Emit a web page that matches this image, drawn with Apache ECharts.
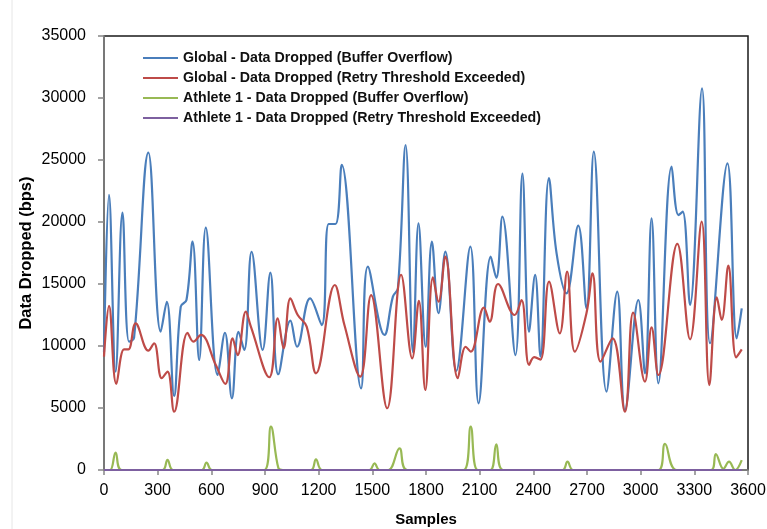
<!DOCTYPE html>
<html>
<head>
<meta charset="utf-8">
<script src="https://cdn.jsdelivr.net/npm/echarts@6/dist/echarts.min.js"></script>
<style>
html,body{margin:0;padding:0;background:#fff;}
#chart{width:767px;height:529px;}
</style>
</head>
<body>
<div id="chart"></div>
<script>
// ---- Data ----
var seriesNames = [
  'Global - Data Dropped (Buffer Overflow)',
  'Global - Data Dropped (Retry Threshold Exceeded)',
  'Athlete 1 - Data Dropped (Buffer Overflow)',
  'Athlete 1 - Data Dropped (Retry Threshold Exceeded)'
];

var globalBufferX = [0,28,65,103,140,168,248,317,351,392,429,461,495,532,569,635,676,715,752,784,825,887,930,974,1042,1079,1152,1217,1256,1294,1329,1437,1475,1568,1615,1643,1686,1727,1758,1798,1833,1870,1908,1969,2048,2094,2162,2193,2227,2300,2339,2376,2410,2440,2487,2530,2585,2651,2697,2738,2809,2869,2912,2987,3024,3061,3099,3173,3211,3235,3276,3343,3388,3485,3537,3565];
var globalBufferY = [9500,22180,7930,20750,10350,10650,25590,11150,13570,5970,13170,13710,18410,8870,19540,7660,11070,5780,11150,9680,17600,9680,15910,7720,12040,9940,13840,11690,19840,19840,24600,6590,16400,10890,13980,14650,26210,9500,19890,9940,18410,12640,17610,8000,18010,5380,17200,15500,20430,9270,23900,11150,15730,9140,23550,17470,14250,19700,13040,25670,6320,14380,4840,13710,7800,20300,6990,24460,20560,20830,13310,30780,10220,24730,10620,13040];

var globalRetryX = [0,28,69,112,136,177,248,280,323,355,392,467,500,541,625,678,719,747,793,821,924,971,1004,1042,1083,1133,1185,1290,1344,1432,1493,1583,1661,1723,1760,1796,1839,1870,1908,1978,2022,2050,2124,2156,2203,2296,2334,2376,2405,2440,2488,2548,2589,2632,2697,2731,2776,2843,2912,2958,3024,3061,3099,3205,3276,3341,3384,3426,3453,3490,3534,3565];
var globalRetryY = [9140,13230,6940,9730,9730,11830,9620,10220,7400,7930,4700,11070,10350,10890,8470,6940,10620,9270,12770,11560,7480,12230,9810,13840,12500,11560,7800,14920,11690,7530,14110,4980,15730,9010,13650,6450,15540,13570,17200,7400,9940,9540,13090,11960,15000,12500,13710,8470,9100,8900,15190,11020,15990,9540,12640,15860,8740,10620,4700,12690,7120,11510,7660,18230,10540,20030,6850,13920,12100,16480,9080,9730];

var athleteBufferX = [0,34,65,99,327,355,386,547,573,603,896,933,975,1000,1157,1185,1219,1484,1512,1540,1590,1652,1695,2010,2050,2089,2160,2193,2231,2563,2591,2623,3099,3136,3201,3394,3420,3462,3494,3528,3565];
var athleteBufferY = [0,0,1400,0,0,810,0,0,590,0,0,3500,150,0,0,860,0,0,540,0,0,1750,0,0,3500,0,0,2070,0,0,670,0,0,2100,0,0,1290,100,670,0,800];

var athleteRetryX = [0,3565];
var athleteRetryY = [0,0];

var xTicks = {min:0, max:3600, interval:300};
var yTicks = {min:0, max:35000, interval:5000};

function pairs(xs, ys){ return xs.map(function(x,i){ return [x, ys[i]]; }); }

var colors = ['#4a7ebb','#be4b48','#98b954','#7d60a0'];
var chart = echarts.init(document.getElementById('chart'), null, {renderer:'canvas'});

function lineSeries(name, data, color){
  return {
    name: name, type: 'line', data: data, smooth: 0.4, symbol: 'none',
    lineStyle: {color: color, width: 2.2}, itemStyle: {color: color},
    animation: false
  };
}
var font = 'Liberation Sans, Arial, sans-serif';

chart.setOption({
  backgroundColor: '#fff',
  animation: false,
  graphic: [{
    type: 'line', shape: {x1: 12, y1: 0, x2: 12, y2: 529},
    style: {stroke: '#e6e6e6', lineWidth: 1}, silent: true
  }],
  grid: {left: 104, right: 19, top: 36, bottom: 59, show: true, containLabel: false,
         outerBoundsMode: 'none',
         borderColor: '#1a1a1a', borderWidth: 1.5, backgroundColor: 'transparent'},
  legend: {
    orient: 'vertical', left: 143, top: 50, padding: 0,
    icon: 'rect', itemWidth: 35, itemHeight: 2, itemGap: 4,
    data: seriesNames,
    textStyle: {fontFamily: font, fontWeight: 'bold', fontSize: 14.2, color: '#111', lineHeight: 16}
  },
  xAxis: {
    type: 'value', min: xTicks.min, max: xTicks.max, interval: xTicks.interval,
    name: 'Samples', nameLocation: 'middle', nameGap: 42, nameMoveOverlap: false,
    nameTextStyle: {fontFamily: font, fontWeight: 'bold', fontSize: 15, color: '#000'},
    axisLine: {show: true, lineStyle: {color: '#868686', width: 1.5}},
    axisTick: {show: true, inside: false, length: 5, lineStyle: {color: '#868686', width: 1.5}},
    axisLabel: {margin: 13, fontFamily: font, fontSize: 16, color: '#000',
                formatter: function(v){ return String(v); }},
    splitLine: {show: false}
  },
  yAxis: {
    type: 'value', min: yTicks.min, max: yTicks.max, interval: yTicks.interval,
    name: 'Data Dropped (bps)', nameLocation: 'middle', nameGap: 69, nameMoveOverlap: false,
    nameTextStyle: {fontFamily: font, fontWeight: 'bold', fontSize: 16.5, color: '#000'},
    axisLine: {show: true, lineStyle: {color: '#868686', width: 1.5}},
    axisTick: {show: true, inside: false, length: 6, lineStyle: {color: '#868686', width: 1.5}},
    axisLabel: {margin: 18, fontFamily: font, fontSize: 16, color: '#000',
                formatter: function(v){ return String(v); }},
    splitLine: {show: false}
  },
  series: [
    lineSeries(seriesNames[0], pairs(globalBufferX, globalBufferY), colors[0]),
    lineSeries(seriesNames[1], pairs(globalRetryX, globalRetryY), colors[1]),
    lineSeries(seriesNames[2], pairs(athleteBufferX, athleteBufferY), colors[2]),
    lineSeries(seriesNames[3], pairs(athleteRetryX, athleteRetryY), colors[3])
  ]
});
</script>
</body>
</html>
